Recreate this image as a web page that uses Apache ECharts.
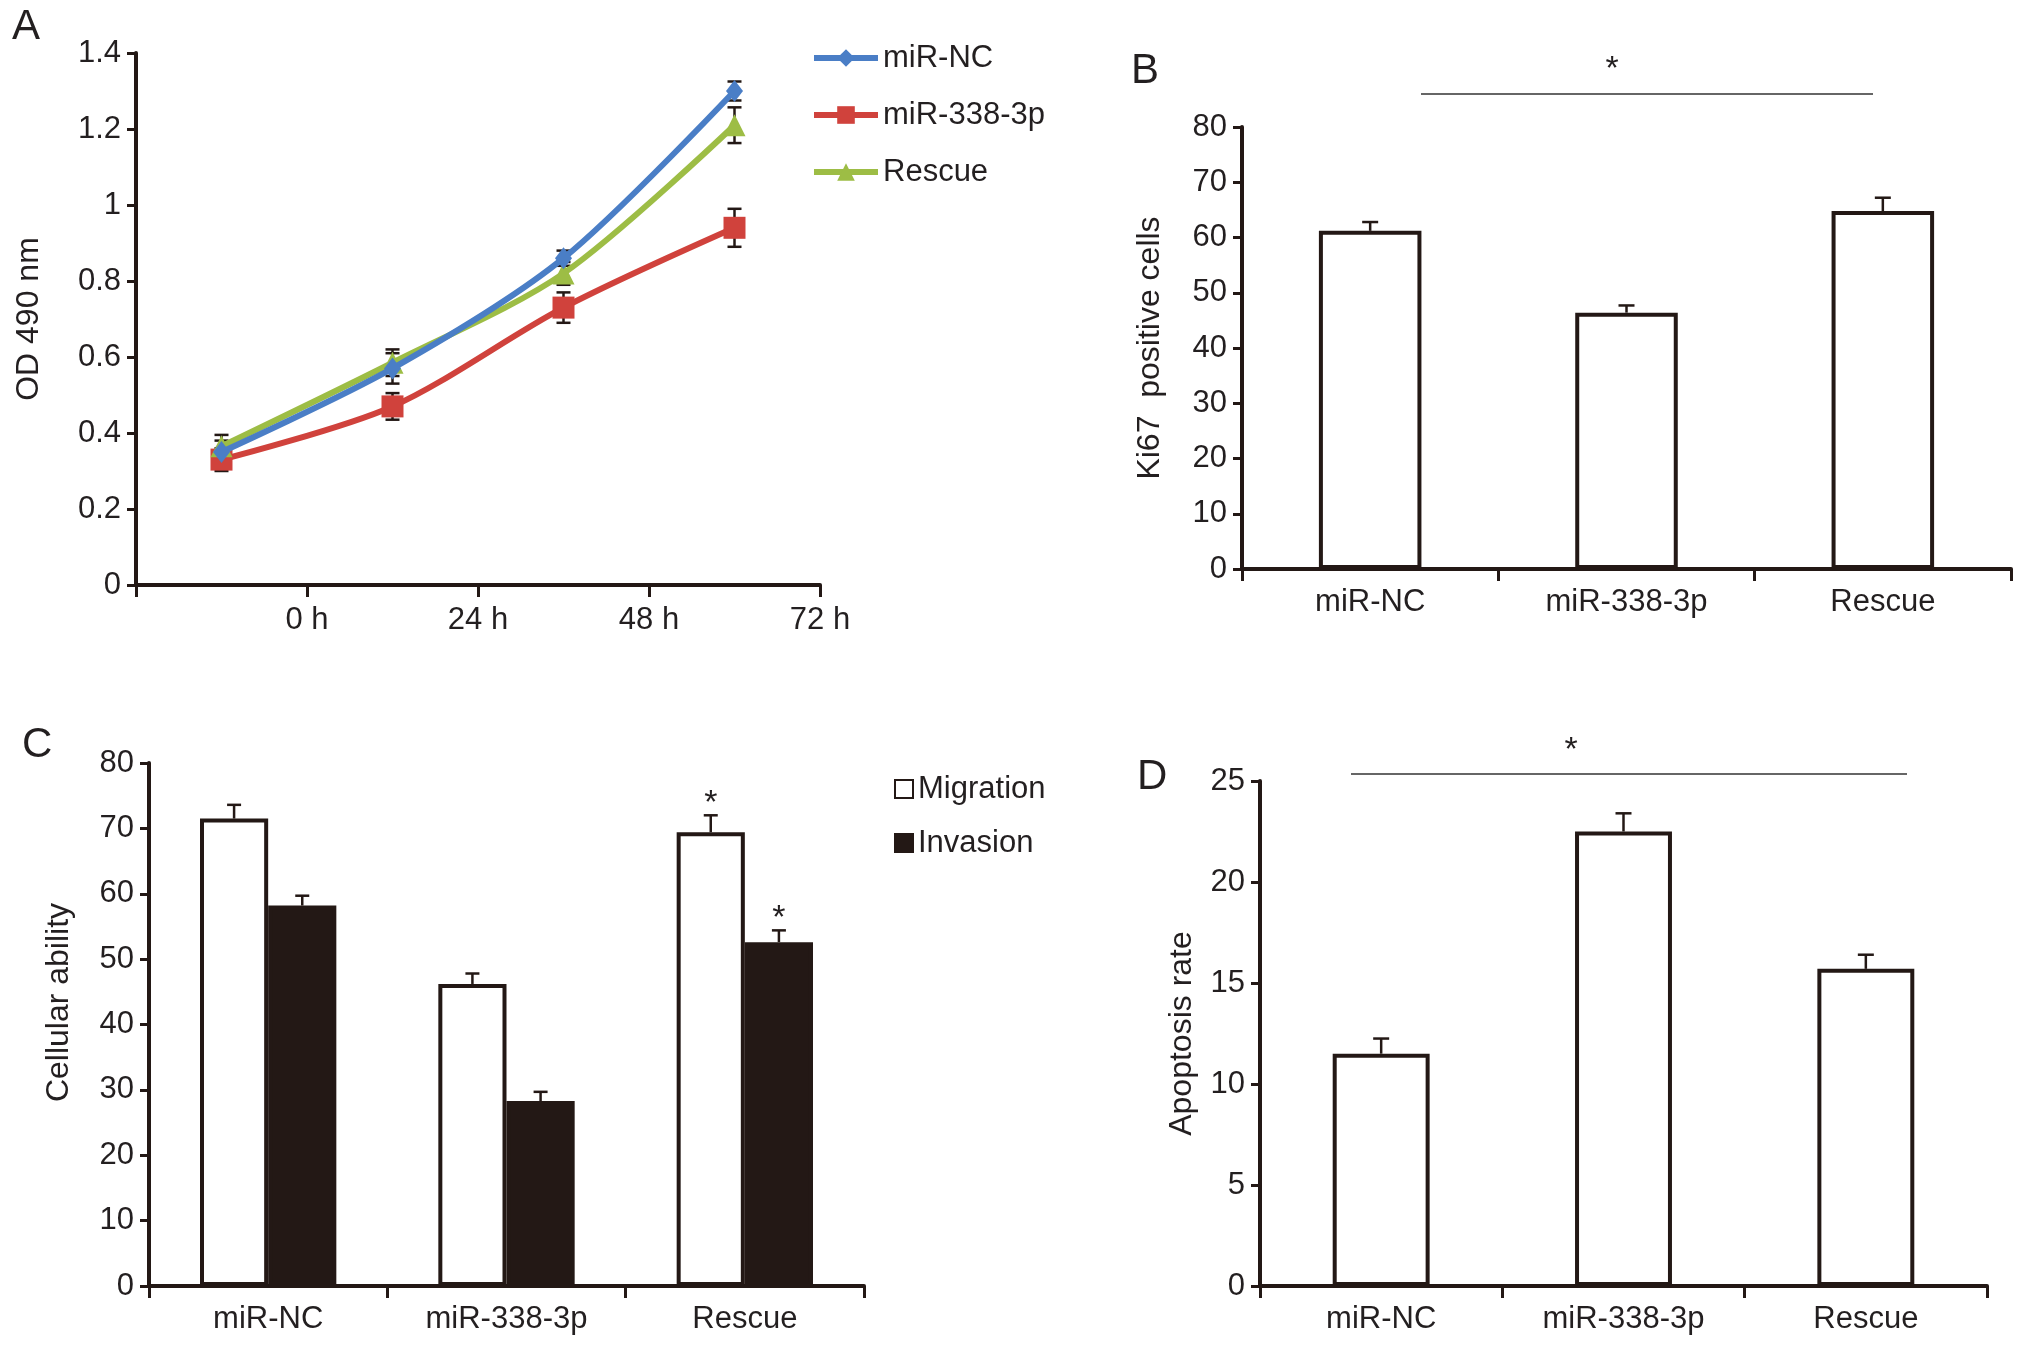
<!DOCTYPE html>
<html>
<head>
<meta charset="utf-8">
<script src="https://cdn.jsdelivr.net/npm/echarts@6/dist/echarts.min.js"></script>
<style>
html,body{margin:0;padding:0;background:#fff;}
#chart{width:2032px;height:1349px;}
</style>
</head>
<body>
<div id="chart"></div>
<script>
// ---------- data ----------
const timeCategories = ['T1', 'T2', 'T3', 'T4'];
const timeTickLabels = ['', '0 h', '24 h', '48 h', '72 h'];
const odNC = [0.35, 0.57, 0.86, 1.30];
const odNCErr = [0.03, 0.04, 0.02, 0.025];
const od338 = [0.33, 0.47, 0.73, 0.94];
const od338Err = [0.03, 0.035, 0.04, 0.05];
const odRescue = [0.365, 0.585, 0.82, 1.21];
const odRescueErr = [0.03, 0.035, 0.03, 0.047];

const groups = ['miR-NC', 'miR-338-3p', 'Rescue'];
const ki67 = [61.2, 46.4, 64.8];
const ki67Err = [1.6, 1.3, 2.4];
const migration = [71.5, 46.2, 69.4];
const migrationErr = [2.1, 1.6, 2.6];
const migrationSig = [0, 0, 1];
const invasion = [58.2, 28.3, 52.6];
const invasionErr = [1.5, 1.4, 1.8];
const invasionSig = [0, 0, 1];
const apoptosis = [11.5, 22.5, 15.7];
const apoptosisErr = [0.75, 0.9, 0.7];

// ---------- style ----------
const FONT = "'Liberation Sans', Arial, Helvetica, sans-serif";
const TXT = '#231f20';
const AX = '#231815';
const BLUE = '#4a7ec6', RED = '#d0423c', GREEN = '#9dbd45';

function errData(vals, errs, sig) {
  return vals.map((v, i) => [i, v, errs[i], sig ? sig[i] : 0]);
}
function errRender(offsetFrac, both, capW, lw) {
  return function (params, api) {
    const idx = api.value(0), v = api.value(1), e = api.value(2), s = api.value(3);
    const band = api.size([1, 0])[0];
    const p0 = api.coord([idx, v]);
    const cx = p0[0] + offsetFrac * band;
    const yt = api.coord([idx, v + e])[1];
    const yb = both ? api.coord([idx, v - e])[1] : p0[1];
    const st = { stroke: AX, lineWidth: lw };
    const ch = [
      { type: 'line', shape: { x1: cx, y1: yt, x2: cx, y2: yb }, style: st },
      { type: 'line', shape: { x1: cx - capW / 2, y1: yt, x2: cx + capW / 2, y2: yt }, style: st }
    ];
    if (both) ch.push({ type: 'line', shape: { x1: cx - capW / 2, y1: yb, x2: cx + capW / 2, y2: yb }, style: st });
    if (s) ch.push({ type: 'text', style: { text: '*', x: cx, y: yt - 12, align: 'center', verticalAlign: 'middle', fontSize: 34, fontFamily: FONT, fill: TXT } });
    return { type: 'group', children: ch };
  };
}

function catAxis(grid, data, showLabel) {
  return {
    type: 'category', gridIndex: grid, data: data, position: 'bottom',
    axisLine: { show: true, lineStyle: { color: AX, width: 4 } },
    axisTick: { show: true, length: 12, lineStyle: { color: AX, width: 3 } },
    axisLabel: { show: showLabel, color: TXT, fontSize: 31, fontFamily: FONT, margin: 18 },
    splitLine: { show: false }
  };
}
function valAxis(grid, max, interval, name, nameGap, namePad) {
  return {
    type: 'value', gridIndex: grid, min: 0, max: max, interval: interval,
    name: name, nameLocation: 'middle', nameGap: nameGap,
    nameTextStyle: { color: TXT, fontSize: 32, fontFamily: FONT, padding: namePad || 0 },
    axisLine: { show: true, lineStyle: { color: AX, width: 4 } },
    axisTick: { show: true, length: 9, lineStyle: { color: AX, width: 3 } },
    axisLabel: { color: TXT, fontSize: 31, fontFamily: FONT, margin: 15 },
    splitLine: { show: false }
  };
}

const chart = echarts.init(document.getElementById('chart'), null, { renderer: 'canvas' });
const option = {
  backgroundColor: '#fff',
  animation: false,
  textStyle: { fontFamily: FONT },
  grid: [
    { left: 136, top: 53, width: 684, height: 532, outerBoundsMode: 'none' },
    { left: 1242, top: 127, width: 769, height: 442, outerBoundsMode: 'none' },
    { left: 149, top: 763, width: 715, height: 523, outerBoundsMode: 'none' },
    { left: 1260, top: 781, width: 727, height: 505, outerBoundsMode: 'none' }
  ],
  xAxis: [
    catAxis(0, timeCategories, false),
    {
      type: 'value', gridIndex: 0, min: 0, max: 4, interval: 1, position: 'bottom',
      axisLine: { show: false }, axisTick: { show: false }, splitLine: { show: false },
      axisLabel: { color: TXT, fontSize: 31, fontFamily: FONT, margin: 20, showMinLabel: true, showMaxLabel: true,
        formatter: v => timeTickLabels[Math.round(v)] || '' }
    },
    catAxis(1, groups, true),
    catAxis(2, groups, true),
    catAxis(3, groups, true)
  ],
  yAxis: [
    valAxis(0, 1.4, 0.2, 'OD 490 nm', 91),
    valAxis(1, 80, 10, 'Ki67  positive cells', 76),
    valAxis(2, 80, 10, 'Cellular ability', 74, [0, 0, 0, 44]),
    valAxis(3, 25, 5, 'Apoptosis rate', 62)
  ],
  legend: [
    {
      data: ['miR-NC', 'miR-338-3p', 'Rescue'], orient: 'vertical', left: 806, top: 36,
      itemWidth: 64, itemHeight: 22, itemGap: 23,
      lineStyle: { width: 6 },
      textStyle: { color: TXT, fontSize: 31, fontFamily: FONT, lineHeight: 34 }
    },
    {
      data: ['Migration', 'Invasion'], orient: 'vertical', left: 889, top: 767,
      itemWidth: 18, itemHeight: 18, itemGap: 20, icon: 'rect',
      textStyle: { color: TXT, fontSize: 31, fontFamily: FONT, lineHeight: 34 }
    }
  ],
  graphic: [
    { type: 'text', left: 12, top: 6, style: { text: 'A', fontSize: 42, fontFamily: FONT, fill: TXT } },
    { type: 'text', left: 1131, top: 50, style: { text: 'B', fontSize: 42, fontFamily: FONT, fill: TXT } },
    { type: 'text', left: 22, top: 724, style: { text: 'C', fontSize: 42, fontFamily: FONT, fill: TXT } },
    { type: 'text', left: 1137, top: 756, style: { text: 'D', fontSize: 42, fontFamily: FONT, fill: TXT } },
    { type: 'line', shape: { x1: 1421, y1: 94, x2: 1873, y2: 94 }, style: { stroke: '#666', lineWidth: 2 } },
    { type: 'text', x: 1612, y: 70, style: { text: '*', fontSize: 34, fontFamily: FONT, fill: TXT, align: 'center', verticalAlign: 'middle' } },
    { type: 'line', shape: { x1: 1351, y1: 774, x2: 1907, y2: 774 }, style: { stroke: '#666', lineWidth: 2 } },
    { type: 'text', x: 1571, y: 751, style: { text: '*', fontSize: 34, fontFamily: FONT, fill: TXT, align: 'center', verticalAlign: 'middle' } }
  ],
  series: [
    // Panel A
    { type: 'custom', name: 'errNC', xAxisIndex: 0, yAxisIndex: 0, z: 1, renderItem: errRender(0, true, 14, 2.5), data: errData(odNC, odNCErr) },
    { type: 'custom', name: 'err338', xAxisIndex: 0, yAxisIndex: 0, z: 1, renderItem: errRender(0, true, 14, 2.5), data: errData(od338, od338Err) },
    { type: 'custom', name: 'errRescue', xAxisIndex: 0, yAxisIndex: 0, z: 1, renderItem: errRender(0, true, 14, 2.5), data: errData(odRescue, odRescueErr) },
    { type: 'line', name: 'miR-NC', xAxisIndex: 0, yAxisIndex: 0, z: 4, data: odNC, smooth: 0.3,
      symbol: 'diamond', symbolSize: [17, 22], lineStyle: { color: BLUE, width: 6 }, itemStyle: { color: BLUE } },
    { type: 'line', name: 'miR-338-3p', xAxisIndex: 0, yAxisIndex: 0, z: 3, data: od338, smooth: 0.3,
      symbol: 'rect', symbolSize: 22, lineStyle: { color: RED, width: 6 }, itemStyle: { color: RED } },
    { type: 'line', name: 'Rescue', xAxisIndex: 0, yAxisIndex: 0, z: 3, data: odRescue, smooth: 0.3,
      symbol: 'triangle', symbolSize: 22, lineStyle: { color: GREEN, width: 6 }, itemStyle: { color: GREEN } },
    // Panel B
    { type: 'bar', name: 'Ki67', xAxisIndex: 2, yAxisIndex: 1, data: ki67, barWidth: '40%',
      itemStyle: { color: '#fff', borderColor: AX, borderWidth: 4 } },
    { type: 'custom', name: 'errKi67', xAxisIndex: 2, yAxisIndex: 1, z: 3, renderItem: errRender(0, false, 16, 2.5), data: errData(ki67, ki67Err) },
    // Panel C
    { type: 'bar', name: 'Migration', xAxisIndex: 3, yAxisIndex: 2, data: migration, barWidth: '28.6%', barGap: '0%',
      itemStyle: { color: '#fff', borderColor: AX, borderWidth: 4 } },
    { type: 'bar', name: 'Invasion', xAxisIndex: 3, yAxisIndex: 2, data: invasion, barWidth: '28.6%', barGap: '0%',
      itemStyle: { color: AX, borderColor: AX, borderWidth: 4 } },
    { type: 'custom', name: 'errMig', xAxisIndex: 3, yAxisIndex: 2, z: 3, renderItem: errRender(-0.143, false, 14, 2.5), data: errData(migration, migrationErr, migrationSig) },
    { type: 'custom', name: 'errInv', xAxisIndex: 3, yAxisIndex: 2, z: 3, renderItem: errRender(0.143, false, 14, 2.5), data: errData(invasion, invasionErr, invasionSig) },
    // Panel D
    { type: 'bar', name: 'Apoptosis', xAxisIndex: 4, yAxisIndex: 3, data: apoptosis, barWidth: '40%',
      itemStyle: { color: '#fff', borderColor: AX, borderWidth: 4 } },
    { type: 'custom', name: 'errApop', xAxisIndex: 4, yAxisIndex: 3, z: 3, renderItem: errRender(0, false, 16, 2.5), data: errData(apoptosis, apoptosisErr) }
  ]
};
chart.setOption(option);
</script>
</body>
</html>
